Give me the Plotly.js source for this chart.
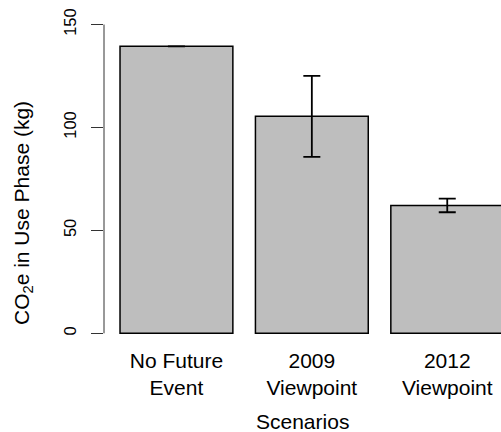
<!DOCTYPE html>
<html>
<head>
<meta charset="utf-8">
<script src="https://cdn.plot.ly/plotly-3.0.1.min.js"></script>
<style>html,body{margin:0;padding:0;background:#fff;}#chart{width:501px;height:432px;}</style>
</head>
<body>
<div id="chart"></div>
<script>
var categories = ["No Future<br>Event", "2009<br>Viewpoint", "2012<br>Viewpoint"];
var co2Values = [139.4, 105.4, 62.1];
var co2Errors = [0, 19.7, 3.3];
var yTickValues = [0, 50, 100, 150];
var yTickLabels = ["0", "50", "100", "150"];
var yTitle = "CO<sub>2</sub>e in Use Phase (kg)";
var xTitle = "Scenarios";

var FONT = "Liberation Sans, Arial, Helvetica, sans-serif";

var trace = {
  type: "bar",
  x: categories,
  y: co2Values,
  marker: {color: "#bebebe", line: {color: "#000000", width: 1.5}},
  error_y: {type: "data", array: co2Errors, visible: true, color: "#000000", thickness: 1.8, width: 8.5},
  hoverinfo: "none"
};

var layout = {
  width: 501, height: 432,
  margin: {l: 104, r: 0, t: 12, b: 86, pad: 0},
  paper_bgcolor: "#ffffff", plot_bgcolor: "#ffffff",
  bargap: 0.1667,
  showlegend: false,
  font: {family: FONT, color: "#000000", size: 21},
  xaxis: {
    type: "category",
    range: [-0.535, 2.397],
    showline: false, showgrid: false, zeroline: false,
    ticks: "", ticklabelstandoff: 0,
    tickfont: {family: FONT, size: 21, color: "#000000"}
  },
  yaxis: {
    range: [-6.17, 156.1],
    showline: false, showgrid: false, zeroline: false,
    tickmode: "array", tickvals: yTickValues, ticktext: yTickLabels,
    ticks: "outside", ticklen: 12, tickwidth: 1, tickcolor: "#333333",
    tickangle: -90, ticklabelstandoff: 8,
    tickfont: {family: FONT, size: 16.5, color: "#000000"}
  },
  shapes: [
    {type: "line", xref: "paper", yref: "y", x0: 0, x1: 0, y0: yTickValues[0], y1: yTickValues[yTickValues.length - 1],
     line: {color: "#333333", width: 1}}
  ],
  annotations: [
    {text: yTitle, xref: "paper", yref: "paper", x: -0.2053, y: 0.3997, xanchor: "center", yanchor: "middle",
     textangle: -90, showarrow: false, font: {family: FONT, size: 21, color: "#000000"}},
    {text: xTitle, xref: "paper", yref: "paper", x: 0.5, y: -0.2275, xanchor: "center", yanchor: "middle",
     showarrow: false, font: {family: FONT, size: 21, color: "#000000"}}
  ]
};

Plotly.newPlot("chart", [trace], layout, {staticPlot: true, displayModeBar: false});
</script>
</body>
</html>
